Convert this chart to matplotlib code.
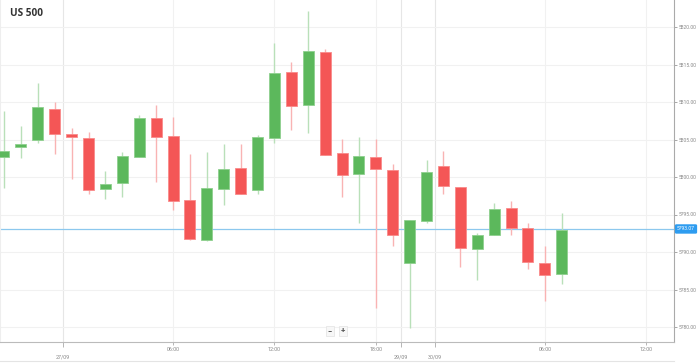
import numpy as np
import matplotlib.pyplot as plt

# hourly candles (index 0 = 26/09 20:00, weekend gap compressed)
opens = [5802.63, 5804.04, 5804.89, 5809.11, 5805.69, 5805.16, 5798.36, 5799.16, 5802.63, 5807.91,
         5805.43, 5796.89, 5791.60, 5798.40, 5801.16, 5798.27, 5805.16, 5813.96, 5809.56, 5816.67,
         5803.16, 5800.36, 5802.67, 5800.89, 5788.49, 5794.11, 5801.44, 5798.67, 5790.40, 5792.31,
         5795.91, 5793.16, 5788.57, 5787.07]
highs = [5808.80, 5806.84, 5812.53, 5809.96, 5806.57, 5806.04, 5800.80, 5803.33, 5808.31, 5809.60,
         5808.04, 5803.07, 5803.33, 5804.36, 5804.36, 5805.56, 5817.87, 5815.33, 5822.09, 5817.03,
         5805.03, 5805.33, 5805.03, 5801.77, 5794.27, 5802.24, 5803.47, 5798.67, 5792.49, 5796.53,
         5796.80, 5793.91, 5790.80, 5795.24]
lows = [5798.57, 5802.57, 5804.57, 5803.07, 5799.77, 5797.77, 5797.07, 5797.29, 5802.63, 5799.33,
        5795.56, 5791.56, 5791.50, 5796.31, 5797.73, 5797.73, 5804.57, 5806.31, 5805.83, 5802.93,
        5797.29, 5793.83, 5782.49, 5790.80, 5779.83, 5793.83, 5797.80, 5788.04, 5786.27, 5792.31,
        5792.27, 5787.73, 5783.51, 5785.77]
closes = [5803.51, 5804.31, 5809.33, 5805.77, 5805.29, 5798.31, 5799.03, 5802.76, 5807.83, 5805.29,
          5796.76, 5791.73, 5798.57, 5801.07, 5797.73, 5805.29, 5813.83, 5809.43, 5816.80, 5802.93,
          5800.27, 5802.80, 5801.03, 5792.23, 5794.27, 5800.73, 5798.76, 5790.53, 5792.23, 5795.77,
          5793.24, 5788.71, 5786.93, 5792.97]
last_price = 5793.07

hour_pos = [10, 16, 22, 32, 38]
hour_labels = ['06:00', '12:00', '18:00', '06:00', '12:00']
day_pos = [3.5, 23.5, 25.5]
day_labels = ['27/09', '29/09', '30/09']
price_ticks = [5780, 5785, 5790, 5795, 5800, 5805, 5810, 5815, 5820]

plt.rcParams['font.family'] = ['Roboto', 'DejaVu Sans']

green = '#5cb85c'
red = '#f45656'

fig = plt.figure(figsize=(6.99, 3.63), dpi=100)
ax = fig.add_axes([0, 1 - 342 / 363, 674 / 699, 342 / 363])

x = np.arange(len(opens))
o = np.array(opens)
c = np.array(closes)
up = c >= o
cols = np.where(up, green, red)
wick_cols = np.where(up, '#b9e0b9', '#f9b3b3')

ax.vlines(x, lows, highs, colors=wick_cols, linewidth=1.0, zorder=2)
bottoms = np.minimum(o, c)
heights = np.maximum(np.abs(c - o), 0.3)
ax.bar(x, heights, bottom=bottoms, width=0.65, color=cols,
       edgecolor=[('#8fd08f' if u else '#f98a8a') for u in up], linewidth=0.6, zorder=3)

# current price line
ax.axhline(last_price, color='#8cc8ee', linewidth=0.9, zorder=1)
ax.annotate(f'{last_price:.2f}', xy=(1.0, last_price), xycoords=('axes fraction', 'data'),
            xytext=(2.2, 0), textcoords='offset points', va='center', ha='left',
            fontsize=3.6, color='white',
            bbox=dict(boxstyle='round,pad=0.3,rounding_size=0.15', fc='#2d9cf0', ec='#2d9cf0'),
            annotation_clip=False)

ax.set_xlim(-0.237, 39.64)
ax.set_ylim(5778.0, 5823.6)

ax.yaxis.tick_right()
ax.set_yticks(price_ticks, labels=[f'{v:.2f}' for v in price_ticks])
ax.set_xticks(hour_pos, labels=hour_labels)
ax.set_xticks(day_pos, labels=day_labels, minor=True)
ax.tick_params(axis='y', labelsize=3.6, labelcolor='#888888', color='#999999',
               length=2.0, width=0.6, pad=1.5)
ax.tick_params(axis='x', which='major', labelsize=3.9, labelcolor='#888888',
               color='#aaaaaa', length=2, width=0.6, pad=1.5)
ax.tick_params(axis='x', which='minor', labelsize=3.9, labelcolor='#888888',
               color='#aaaaaa', length=3.5, width=0.6, pad=5.5)

ax.grid(axis='y', color='#f1f1f1', linewidth=0.8, zorder=0)
ax.grid(axis='x', which='major', color='#f1f1f1', linewidth=0.8, zorder=0)
ax.grid(axis='x', which='minor', color='#e6e6e6', linewidth=0.8, zorder=0)
ax.set_axisbelow(True)

ax.spines['top'].set_visible(False)
ax.spines['left'].set_color('#eeeeee')
ax.spines['right'].set_color('#aaaaaa')
ax.spines['bottom'].set_color('#bbbbbb')
for s in ['left', 'right', 'bottom']:
    ax.spines[s].set_linewidth(0.8)

ax.text(10 / 674, 1 - 14 / 342, 'US 500', transform=ax.transAxes, fontsize=7.2,
        fontweight='bold', color='#333333', va='center', ha='left',
        family=['Open Sans', 'DejaVu Sans'])

# zoom buttons
for xp, sym in [(330, '−'), (343, '+')]:
    fig.text(xp / 699, 1 - 331 / 363, sym, fontsize=5.5, color='#555555', ha='center',
             va='center', fontweight='bold',
             bbox=dict(boxstyle='square,pad=0.25', fc='#f7f7f7', ec='#e2e2e2', lw=0.5))

# bottom frame line
fig.add_artist(plt.Line2D([0, 674 / 699], [1 - 361 / 363] * 2, color='#e4e4e4',
                          linewidth=0.8, transform=fig.transFigure))

fig.savefig('out.png', dpi=100)
